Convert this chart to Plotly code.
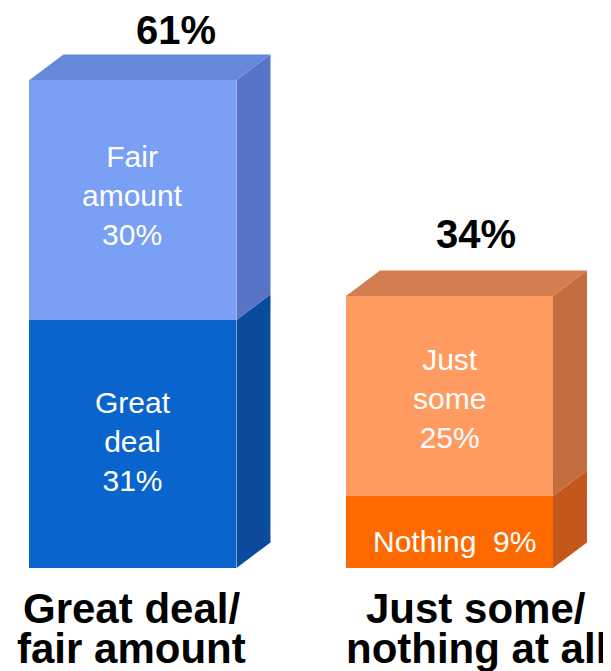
import plotly.graph_objects as go

# ---- data ----
categories_line1 = ["Great deal/", "Just some/"]
categories_line2 = ["fair amount", "nothing at all"]
bottom_names = ["Great<br>deal", "Nothing"]
top_names = ["Fair<br>amount", "Just<br>some"]
bottom_values = [31, 9]
top_values = [30, 25]
totals = [61, 34]

# ---- styling / layout ----
x_pos = [0, 1]
bar_w = 0.654
dx = 0.1074          # depth (x units)
dy = 3.2             # depth (y units)
front_bottom = ["#0A64CD", "#FF6A00"]
front_top = ["#7AA0F5", "#FF9B60"]
side_bottom = ["#0A4B9E", "#C4581C"]
side_top = ["#5874C6", "#C46E40"]
top_face = ["#6688DA", "#D27E50"]

fig = go.Figure()

def poly(xs, ys, color):
    fig.add_trace(go.Scatter(x=xs + [xs[0]], y=ys + [ys[0]], fill="toself",
                             fillcolor=color, mode="lines",
                             line=dict(width=0, color=color),
                             hoverinfo="skip", showlegend=False))

for i, xc in enumerate(x_pos):
    xl, xr = xc - bar_w / 2, xc + bar_w / 2
    b = bottom_values[i]
    t = b + top_values[i]
    # side faces
    poly([xr, xr + dx, xr + dx, xr], [0, dy, b + dy, b], side_bottom[i])
    poly([xr, xr + dx, xr + dx, xr], [b, b + dy, t + dy, t], side_top[i])
    # top face
    poly([xl, xl + dx, xr + dx, xr], [t, t + dy, t + dy, t], top_face[i])

fig.add_trace(go.Bar(x=x_pos, y=bottom_values, width=bar_w,
                     marker=dict(color=front_bottom, line=dict(width=0)),
                     hoverinfo="skip", showlegend=False))
fig.add_trace(go.Bar(x=x_pos, y=top_values, width=bar_w,
                     marker=dict(color=front_top, line=dict(width=0)),
                     hoverinfo="skip", showlegend=False))

inner_font = dict(family="Liberation Sans, Arial, sans-serif", size=30, color="white")
bottom_yshift = [3, -9]
top_yshift = [5, -2]
bottom_xshift = [0, 5]
for i, xc in enumerate(x_pos):
    b = bottom_values[i]
    t = b + top_values[i]
    sep = "<br>" if "<br>" in bottom_names[i] else "\u00a0\u00a0"
    fig.add_annotation(x=xc, y=b / 2, text=f"{bottom_names[i]}{sep}{b}%",
                       showarrow=False, font=inner_font, xanchor="center", yanchor="middle",
                       yshift=bottom_yshift[i], xshift=bottom_xshift[i])
    fig.add_annotation(x=xc, y=(b + t) / 2, text=f"{top_names[i]}<br>{top_values[i]}%",
                       showarrow=False, font=inner_font, xanchor="center", yanchor="middle",
                       yshift=top_yshift[i])

# totals above bars
total_xshift = [43, 27]
total_yoff = [6.3, 7.7]
for i, xc in enumerate(x_pos):
    fig.add_annotation(x=xc, y=totals[i] + total_yoff[i], text=f"<b>{totals[i]}%</b>",
                       showarrow=False, xshift=total_xshift[i],
                       font=dict(family="Liberation Sans, Arial, sans-serif", size=40, color="black"),
                       xanchor="center", yanchor="middle")

# category labels
cat_xshift = [-1, 27]
lbl_font = dict(family="Liberation Sans, Arial, sans-serif", size=42, color="black")
for i, xc in enumerate(x_pos):
    fig.add_annotation(x=xc, y=-5.0, text=f"<b>{categories_line1[i]}</b>", showarrow=False,
                       xshift=cat_xshift[i], font=lbl_font, xanchor="center", yanchor="middle")
    fig.add_annotation(x=xc, y=-10.1, text=f"<b>{categories_line2[i]}</b>", showarrow=False,
                       xshift=cat_xshift[i], font=lbl_font, xanchor="center", yanchor="middle")

fig.update_layout(
    width=603, height=663,
    margin=dict(l=0, r=0, t=0, b=0),
    paper_bgcolor="white", plot_bgcolor="white",
    barmode="stack",
    xaxis=dict(range=[-0.3949, 1.5103], visible=False, fixedrange=True),
    yaxis=dict(range=[-12.875, 70.0], visible=False, fixedrange=True),
    showlegend=False,
)

fig.write_html("out.html")
